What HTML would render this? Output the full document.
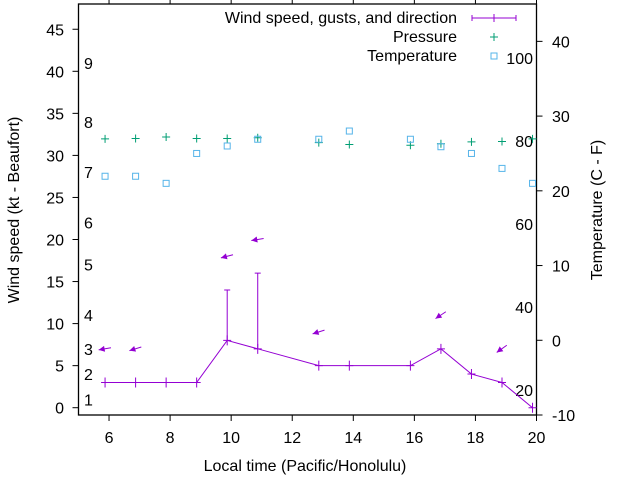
<!DOCTYPE html>
<html><head><meta charset="utf-8"><style>
body{margin:0;background:#fff}
svg{display:block;font-family:"Liberation Sans",sans-serif;font-size:16px}
</style></head><body>
<svg id="c" width="640" height="480" viewBox="0 0 640 480"></svg>
<script>
const hours=[5.87,6.87,7.87,8.87,9.87,10.87,12.87,13.87,15.87,16.87,17.87,18.87,19.87];
const windSpeed=[3,3,3,3,8,7,5,5,5,7,4,3,0];
const gustHours=[9.87,10.87];
const gusts=[14,16];
const arrowHours=[5.87,6.87,9.87,10.87,12.87,16.87,18.87];
const arrowLevels=[7,7,18,20,9,11,7];
const arrowDirs=[80,72,75,80,72,55,53];
const pressure=[26.95,27.0,27.2,27.0,27.0,27.1,26.45,26.2,26.1,26.3,26.55,26.6,26.95];
const temperature=[21.95,21.95,21.0,25.0,26.0,26.9,26.9,28.0,26.9,25.9,25.0,23.0,21.0];
const xTicks=[6,8,10,12,14,16,18,20];
const yTicks=[0,5,10,15,20,25,30,35,40,45];
const y2Ticks=[-10,0,10,20,30,40];
const beaufortKt=[1,4,7,11,17,22,28,34,41];
const beaufortLabels=["1","2","3","4","5","6","7","8","9"];
const fahrenheit=[20,40,60,80,100];

const L=78.5,R=536.5,T=4,B=415;
const X=h=>L+(h-5)*(R-L)/15;
const Y=v=>407.7-v*8.41;
const Y2=c=>415-(c+10)*(B-T)/55;
const svg=document.getElementById('c');
const NS='http://www.w3.org/2000/svg';
function mk(tag,attrs,parent){const e=document.createElementNS(NS,tag);for(const k in attrs)e.setAttribute(k,attrs[k]);(parent||svg).appendChild(e);return e;}
function txt(s,x,y,anchor,extra){const e=mk('text',Object.assign({x:x,y:y,'text-anchor':anchor,fill:'#000'},extra||{}));e.textContent=s;return e;}
const PURPLE='#9400d3',GREEN='#009e73',BLUE='#56b4e9';

// frame
let e=mk('rect',{x:L,y:T,width:R-L,height:B-T,fill:'none',stroke:'#000','stroke-width':1.3});



// x ticks
xTicks.forEach(t=>{
  const x=X(t);
  mk('line',{x1:x,y1:B,x2:x,y2:B+6,stroke:'#000'});
  mk('line',{x1:x,y1:T,x2:x,y2:T-6,stroke:'#000'});
  const l=txt(String(t),x,443,'middle');
  
  
});
yTicks.forEach(t=>{
  const y=Y(t);
  mk('line',{x1:L,y1:y,x2:L-6,y2:y,stroke:'#000'});
  const l=txt(String(t),64,y+6,'end');
  
  
});
y2Ticks.forEach(t=>{
  const y=Y2(t);
  mk('line',{x1:R,y1:y,x2:R+6,y2:y,stroke:'#000'});
  const l=txt(String(t),552,y+6,'start');
  
  
});
beaufortKt.forEach((k,i)=>{
  const l=txt(beaufortLabels[i],84,Y(k)+6,'start');
  
  
});
fahrenheit.forEach(f=>{
  const l=txt(String(f),533,Y2((f-32)/1.8)+6,'end');
  
  
});

// axis titles
e=txt('Local time (Pacific/Honolulu)',305,471,'middle');


e=txt('Wind speed (kt - Beaufort)',0,0,'middle',{transform:'translate(19,210) rotate(-90)'});


e=txt('Temperature (C - F)',0,0,'middle',{transform:'translate(602,210) rotate(-90)'});



// wind line
const pts=hours.map((h,i)=>X(h)+','+Y(windSpeed[i])).join(' ');
e=mk('polyline',{points:pts,fill:'none',stroke:PURPLE,'stroke-width':1});


hours.forEach((h,i)=>{
  const x=X(h),y=Y(windSpeed[i]);
  const g=mk('path',{d:`M${x-4},${y}H${x+4}M${x},${y-5}V${y+5}`,stroke:PURPLE,fill:'none'});
  
  
});
gustHours.forEach((h,i)=>{
  const x=X(h);const idx=hours.indexOf(h);
  const y0=Y(windSpeed[idx]),y1=Y(gusts[i]);
  const g=mk('path',{d:`M${x},${y0}V${y1}M${x-3},${y1}H${x+3}`,stroke:PURPLE,fill:'none'});
  
  
});
arrowHours.forEach((h,i)=>{
  const cx=X(h),cy=Y(arrowLevels[i]);
  const d=arrowDirs[i]*Math.PI/180;
  const dx=-Math.sin(d),dy=Math.cos(d);
  const len=12;
  const hx=cx+dx*len/2-0.5,hy=cy+dy*len/2,tx=cx-dx*len/2,ty=cy-dy*len/2;
  const px=-dy,py=dx;
  const g=mk('g',{});
  
  
  mk('line',{x1:tx,y1:ty,x2:hx,y2:hy,stroke:PURPLE,'stroke-width':1},g);
  const bx=hx-dx*6,by=hy-dy*6;
  mk('polygon',{points:`${hx},${hy} ${bx+px*3},${by+py*3} ${bx-px*3},${by-py*3}`,fill:PURPLE},g);
});

// pressure
hours.forEach((h,i)=>{
  const x=X(h),y=Y2(pressure[i]);
  const g=mk('path',{d:`M${x-4},${y}H${x+4}M${x},${y-4}V${y+4}`,stroke:GREEN,fill:'none'});
  
  
});
// temperature
hours.forEach((h,i)=>{
  const x=X(h),y=Y2(temperature[i]);
  const g=mk('rect',{x:x-3,y:y-3,width:6,height:6,stroke:BLUE,fill:'none','stroke-width':1});
  
  
});

// legend
const lg=mk('g',{});


e=txt('Wind speed, gusts, and direction',457,23,'end');


mk('path',{d:'M472,18H516M472,15V21M516,15V21M494,14V22',stroke:PURPLE,fill:'none'},lg);
e=txt('Pressure',457,42,'end');


mk('path',{d:'M490,37H498M494,33V41',stroke:GREEN,fill:'none'},lg);
e=txt('Temperature',457,61,'end');


mk('rect',{x:491,y:53,width:6,height:6,stroke:BLUE,fill:'none'},lg);
</script>
</body></html>
